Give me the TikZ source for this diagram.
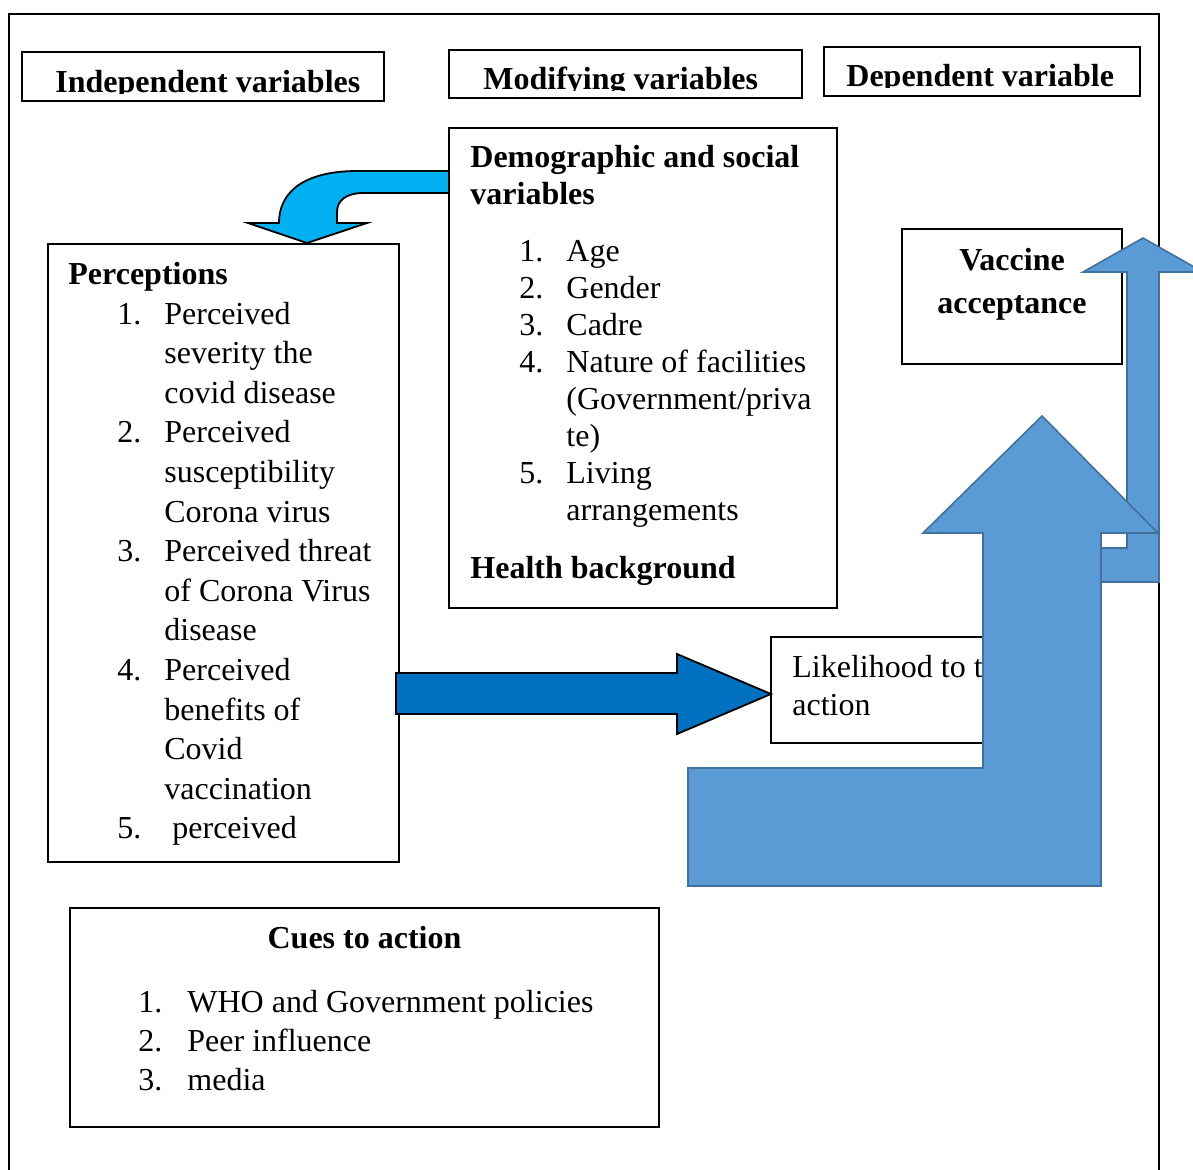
\documentclass[tikz,border=0pt]{standalone}
\usepackage{fontspec}
\setmainfont{Liberation Serif}
\usetikzlibrary{fit}
\definecolor{cyanarr}{HTML}{00B0F0}
\definecolor{bluearr}{HTML}{0070C0}
\definecolor{lightarr}{HTML}{5B9BD5}
\definecolor{lightedge}{HTML}{41719C}
\tikzset{
  box/.style={draw=black, line width=0.9pt, inner sep=0pt, fill=white},
  txt/.style={anchor=base west, inner sep=0pt, font=\fontsize{16}{20}\selectfont},
  btxt/.style={anchor=base west, inner sep=0pt, font=\fontsize{16}{20}\selectfont\bfseries},
  ctxt/.style={anchor=base, inner sep=0pt, font=\fontsize{16}{20}\selectfont\bfseries},
  darkarrow/.style={draw=black, line width=0.9pt, line join=miter},
  lightarrow/.style={fill=lightarr, draw=lightedge, line width=0.8pt, line join=miter},
}
\begin{document}
\begin{tikzpicture}[x=0.5pt, y=-0.5pt]
\useasboundingbox (0,0) rectangle (1193,1169);
\fill[white] (0,0) rectangle (1193,1169);
% outer frame
\draw[line width=0.9pt] (9,1180) -- (9,14) -- (1159,14) -- (1159,1180);

% header boxes
\node[box, fit={(22,52) (384,101)}] (hind) {};
\node[box, fit={(449,50) (802,98)}] (hmod) {};
\node[box, fit={(824,47) (1140,96)}] (hdep) {};
\begin{scope}
  \clip (22,52) rectangle (384,93);
  \node[btxt] (tind) at (55,92) {Independent variables};
\end{scope}
\begin{scope}
  \clip (449,50) rectangle (802,90);
  \node[btxt] (tmod) at (483,89) {Modifying variables};
\end{scope}
\begin{scope}
  \clip (824,47) rectangle (1140,87);
  \node[btxt] (tdep) at (846,86) {Dependent variable};
\end{scope}

% demographic box
\node[box, fit={(449,128) (837,608)}] (demo) {};
\node[btxt] (dh1) at (470,167) {Demographic and social};
\node[btxt] (dh2) at (470,204) {variables};
\foreach \t [count=\k from 0] in {{Age},{Gender},{Cadre},{Nature of facilities},{(Government/priva},{te)},{Living},{arrangements}}
  \node[txt] (dl\k) at (566,261+37*\k) {\t};
\foreach \n/\k in {1/0,2/1,3/2,4/3,5/6}
  \node[txt] (dn\n) at (519,261+37*\k) {\n.};
\node[btxt] (dhb) at (470,578) {Health background};

% perceptions box
\node[box, fit={(48,244) (399,862)}] (perc) {};
\node[btxt] (ph) at (68,284) {Perceptions};
\foreach \t [count=\k from 0] in {{Perceived},{severity the},{covid disease},{Perceived},{susceptibility},{Corona virus},{Perceived threat},{of Corona Virus},{disease},{Perceived},{benefits of},{Covid},{vaccination}}
  \node[txt] (pl\k) at (164,324+39.6*\k) {\t};
\node[txt] (pl13) at (172,324+39.6*13) {perceived};
\foreach \n/\k in {1/0,2/3,3/6,4/9,5/13}
  \node[txt] (pn\n) at (117,324+39.6*\k) {\n.};

% cyan curved arrow
\draw[darkarrow, fill=cyanarr] (449,171) -- (357,171)
  .. controls (310,171) and (279,188) .. (279,223)
  -- (248,223) -- (307,243) -- (367,223) -- (337,223) -- (337,212)
  .. controls (337,200) and (347,193) .. (363,193) -- (449,193) -- cycle;

% cues box
\node[box, fit={(70,908) (659,1127)}] (cues) {};
\node[ctxt] (ch) at (364.5,948) {Cues to action};
\foreach \t [count=\k from 0] in {{WHO and Government policies},{Peer influence},{media}}
  \node[txt] (cl\k) at (187,1012+39*\k) {\t};
\foreach \n [count=\k from 0] in {1,2,3}
  \node[txt] (cn\n) at (138,1012+39*\k) {\n.};

% vaccine box
\node[box, fit={(902,229) (1122,364)}] (vacc) {};
\node[ctxt] (v1) at (1012,270) {Vaccine};
\node[ctxt] (v2) at (1012,313) {acceptance};

% likelihood box
\node[box, fit={(771,637) (1000,743)}] (like) {};
\node[txt] (l1) at (792,677) {Likelihood to t};
\node[txt] (l2) at (792,715) {action};

% dark blue right arrow
\draw[darkarrow, fill=bluearr] (396,673) -- (677,673) -- (677,654) -- (771,694)
  -- (677,734) -- (677,714) -- (396,714) -- cycle;

% thin bent arrow to vaccine acceptance
\draw[lightarrow] (1000,548) -- (1127,548) -- (1127,272) -- (1083,272) -- (1143,238)
  -- (1203,272) -- (1159,272) -- (1159,582) -- (1000,582) -- cycle;

% big L arrow
\draw[lightarrow] (688,768) -- (983,768) -- (983,533) -- (923,533) -- (1042,416)
  -- (1158,533) -- (1101,533) -- (1101,886) -- (688,886) -- cycle;
\end{tikzpicture}
\end{document}
